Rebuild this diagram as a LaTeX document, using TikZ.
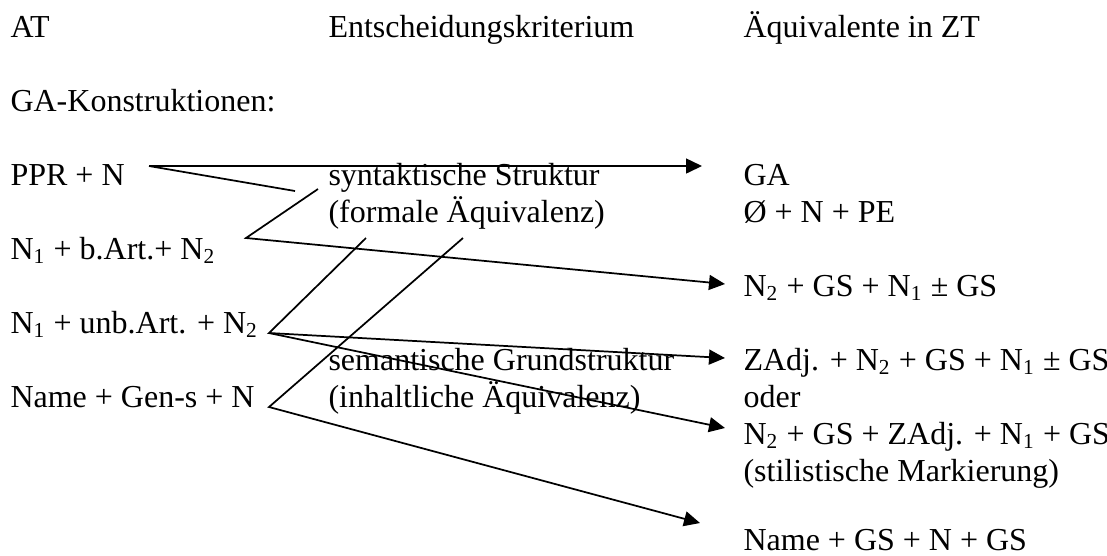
\documentclass[tikz,border=0pt]{standalone}
\usepackage{fontspec}
\setmainfont{Liberation Serif}
\usetikzlibrary{arrows.meta}
\tikzset{
  txt/.style={anchor=base west, inner sep=0pt, font=\fontsize{12pt}{14pt}\selectfont},
  link/.style={line width=0.65pt, line join=miter},
  arr/.style={link, -{Triangle[length=6pt,width=5.6pt]}}
}
\newcommand{\sub}[1]{\textsubscript{#1}}
\begin{document}
\begin{tikzpicture}[x=0.375pt, y=-0.375pt]
\useasboundingbox (0,0) rectangle (1107,555);

% column headers
\node[txt] (hAT) at (10,37) {AT};
\node[txt] (hEK) at (328,37) {Entscheidungskriterium};
\node[txt] (hZT) at (743,37) {Äquivalente in ZT};
\node[txt] (gak) at (10,111) {GA-Konstruktionen:};

% source constructions
\node[txt] (ppr)  at (10,185) {PPR + N};
\node[txt] (nb)   at (10,259) {N\sub{1} + b.Art.+ N\sub{2}};
\node[txt] (nu)   at (10,333) {N\sub{1} + unb.Art. + N\sub{2}};
\node[txt] (name) at (10,407) {Name + Gen-s + N};

% decision criteria
\node[txt] (syn1) at (328,185) {syntaktische Struktur};
\node[txt] (syn2) at (328,222) {(formale Äquivalenz)};
\node[txt] (sem1) at (328,370) {semantische Grundstruktur};
\node[txt] (sem2) at (328,407) {(inhaltliche Äquivalenz)};

% target equivalents
\node[txt] (ga)    at (743,185) {GA};
\node[txt] (gape)  at (743,222) {Ø + N + PE};
\node[txt] (zn1)   at (743,296) {N\sub{2} + GS + N\sub{1} ± GS};
\node[txt] (zadj)  at (743,370) {ZAdj. + N\sub{2} + GS + N\sub{1} ± GS};
\node[txt] (oder)  at (743,407) {oder};
\node[txt] (zadj2) at (743,444) {N\sub{2} + GS + ZAdj. + N\sub{1} + GS};
\node[txt] (stil)  at (743,481) {(stilistische Markierung)};
\node[txt] (ngs)   at (743,550) {Name + GS + N + GS};

% connector points
\coordinate (pprS)  at (149,166);
\coordinate (synA)  at (295,191);
\coordinate (synB)  at (318,189);
\coordinate (vB)    at (246,238);
\coordinate (forA)  at (366,238);
\coordinate (forB)  at (463,238);
\coordinate (vU)    at (269,333);
\coordinate (vN)    at (269,407);
\coordinate (t1)    at (702,166);
\coordinate (t2)    at (725,284);
\coordinate (t3)    at (725,358);
\coordinate (t4)    at (725,428);
\coordinate (t5)    at (700,523);

% connectors
\draw[arr]  (pprS) -- (t1);
\draw[link] (pprS) -- (synA);
\draw[arr]  (synB) -- (vB) -- (t2);
\draw[arr]  (forA) -- (vU) -- (t3);
\draw[arr]  (vU) -- (t4);
\draw[arr]  (forB) -- (vN) -- (t5);
\end{tikzpicture}
\end{document}
